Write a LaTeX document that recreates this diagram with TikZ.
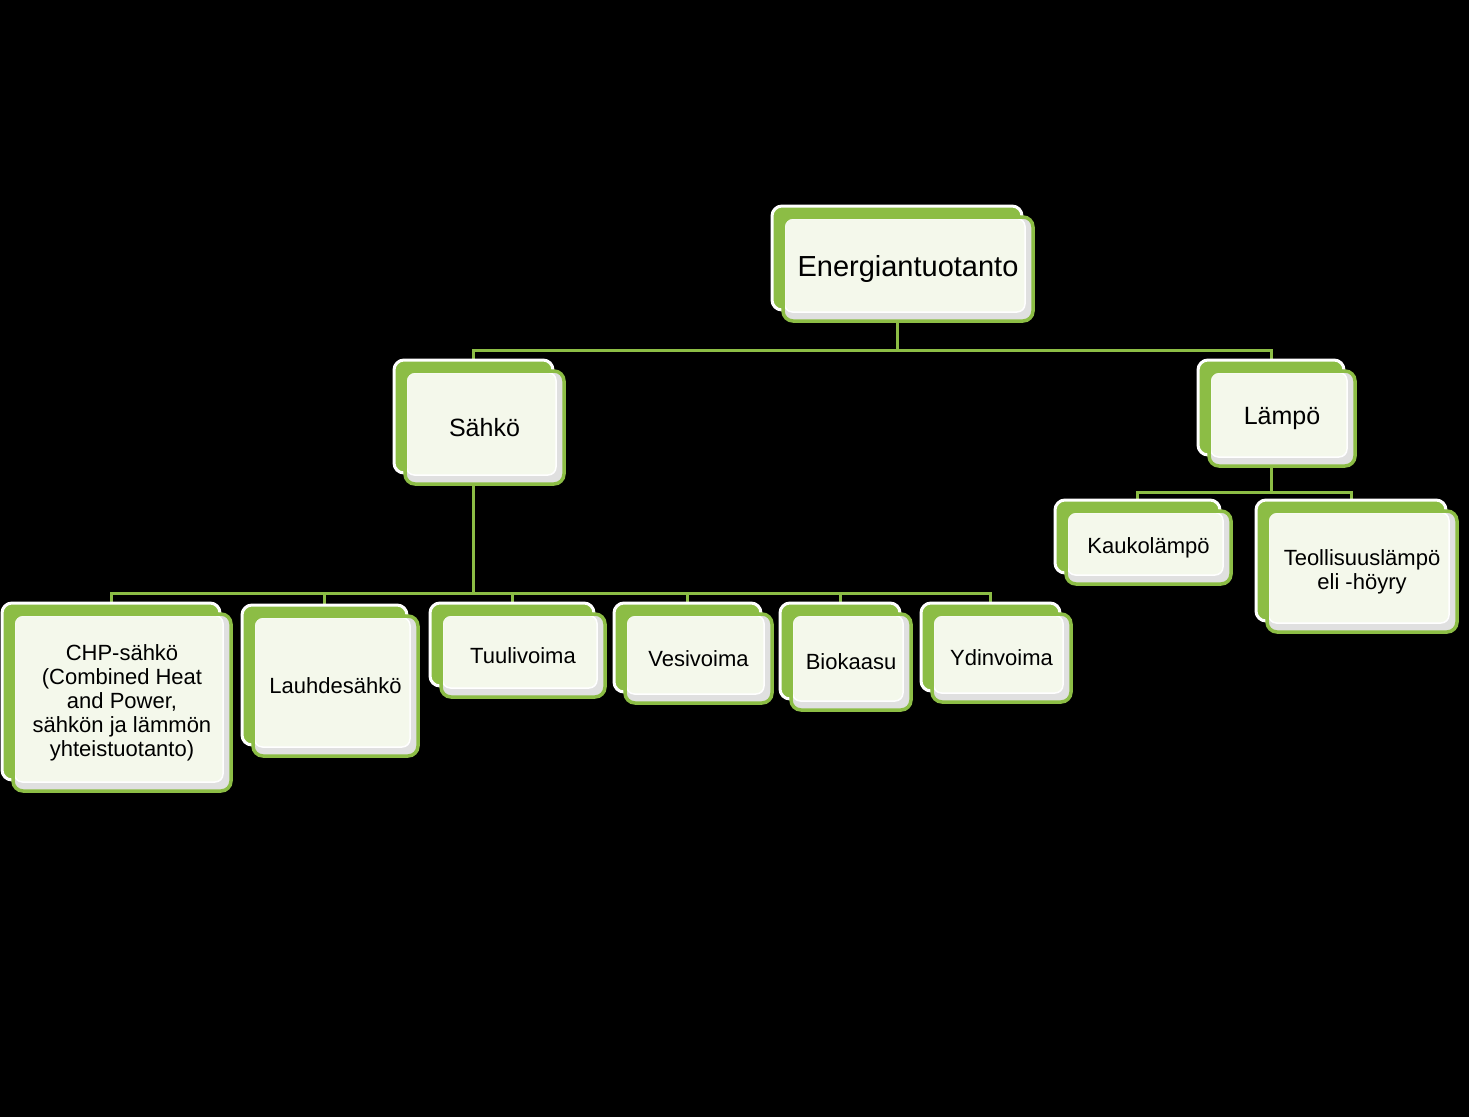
\documentclass[tikz,border=0pt]{standalone}
\usepackage{fontspec}
\setmainfont{Liberation Sans}
\usetikzlibrary{backgrounds}

\definecolor{leafgreen}{HTML}{8CBD45}
\definecolor{paper}{HTML}{F4F8EB}
\definecolor{shade}{HTML}{E0E0E0}

\tikzset{
  backbox/.style={draw=white, fill=leafgreen, line width=3pt, rounded corners=10pt},
  frontbox/.style={draw=leafgreen, fill=shade, line width=3.5pt, rounded corners=10pt,
    align=center, text=black, inner sep=0pt,
    path picture={\draw[white, fill=paper, line width=1.5pt, rounded corners=8pt]
      ([shift={(1.5pt,-1.5pt)}]path picture bounding box.north west) rectangle
      ([shift={(-8pt,9pt)}]path picture bounding box.south east);}},
  link/.style={draw=leafgreen, line width=3pt},
  toplabel/.style={font=\fontsize{29pt}{32pt}\selectfont},
  midlabel/.style={font=\fontsize{25pt}{28pt}\selectfont},
  leaflabel/.style={font=\fontsize{22pt}{24pt}\selectfont}
}

% name, x, y, width, height, label style, text
\newcommand{\orgbox}[7]{%
  \node[backbox, minimum width=#4pt, minimum height=#5pt] (#1) at (#2,#3) {};
  \node[frontbox, #6, minimum width=#4pt, minimum height=#5pt] (#1-f)
    at ([shift={(11pt,-11pt)}]#1.center) {#7};
}

\begin{document}
\begin{tikzpicture}[x=1pt, y=-1pt]
\begin{pgfonlayer}{background}
\fill[black] (0,0) rectangle (1469,1117);
\end{pgfonlayer}
\useasboundingbox (0,0) rectangle (1469,1117);

% top level
\orgbox{energia}{897}{258}{250}{104}{toplabel}{Energiantuotanto}
\orgbox{sahko}{473.5}{416.5}{159}{113}{midlabel}{Sähkö}
\orgbox{lampo}{1271}{407.5}{146}{95}{midlabel}{Lämpö}

% heat
\orgbox{kauko}{1137.5}{536.5}{165}{73}{leaflabel}{Kaukolämpö}
\orgbox{teoll}{1351}{560.5}{190}{121}{leaflabel}{Teollisuuslämpö\\eli -höyry}

% electricity
\orgbox{chp}{111}{691.5}{218}{177}{leaflabel}{CHP-sähkö\\(Combined Heat\\and Power,\\sähkön ja lämmön\\yhteistuotanto)}
\orgbox{lauhde}{324.5}{675}{165}{140}{leaflabel}{Lauhdesähkö}
\orgbox{tuuli}{512}{644.5}{164}{83}{leaflabel}{Tuulivoima}
\orgbox{vesi}{687.5}{647.5}{147}{89}{leaflabel}{Vesivoima}
\orgbox{bio}{840}{651}{120}{96}{leaflabel}{Biokaasu}
\orgbox{ydin}{990.5}{647}{139}{88}{leaflabel}{Ydinvoima}

\coordinate (busTop) at (897,350);
\coordinate (busEl) at (473.5,593);
\coordinate (busHeat) at (1271,492);

\begin{pgfonlayer}{background}
\draw[link] (energia.south) -- (busTop) -| (sahko.north);
\draw[link] (busTop) -| (lampo.north);
\draw[link] (sahko.south) -- (busEl);
\foreach \leaf in {chp,lauhde,tuuli,vesi,bio,ydin}
  \draw[link] (busEl) -| (\leaf.north);
\draw[link] (lampo.south) -- (busHeat);
\foreach \leaf in {kauko,teoll}
  \draw[link] (busHeat) -| (\leaf.north);
\end{pgfonlayer}
\end{tikzpicture}
\end{document}
